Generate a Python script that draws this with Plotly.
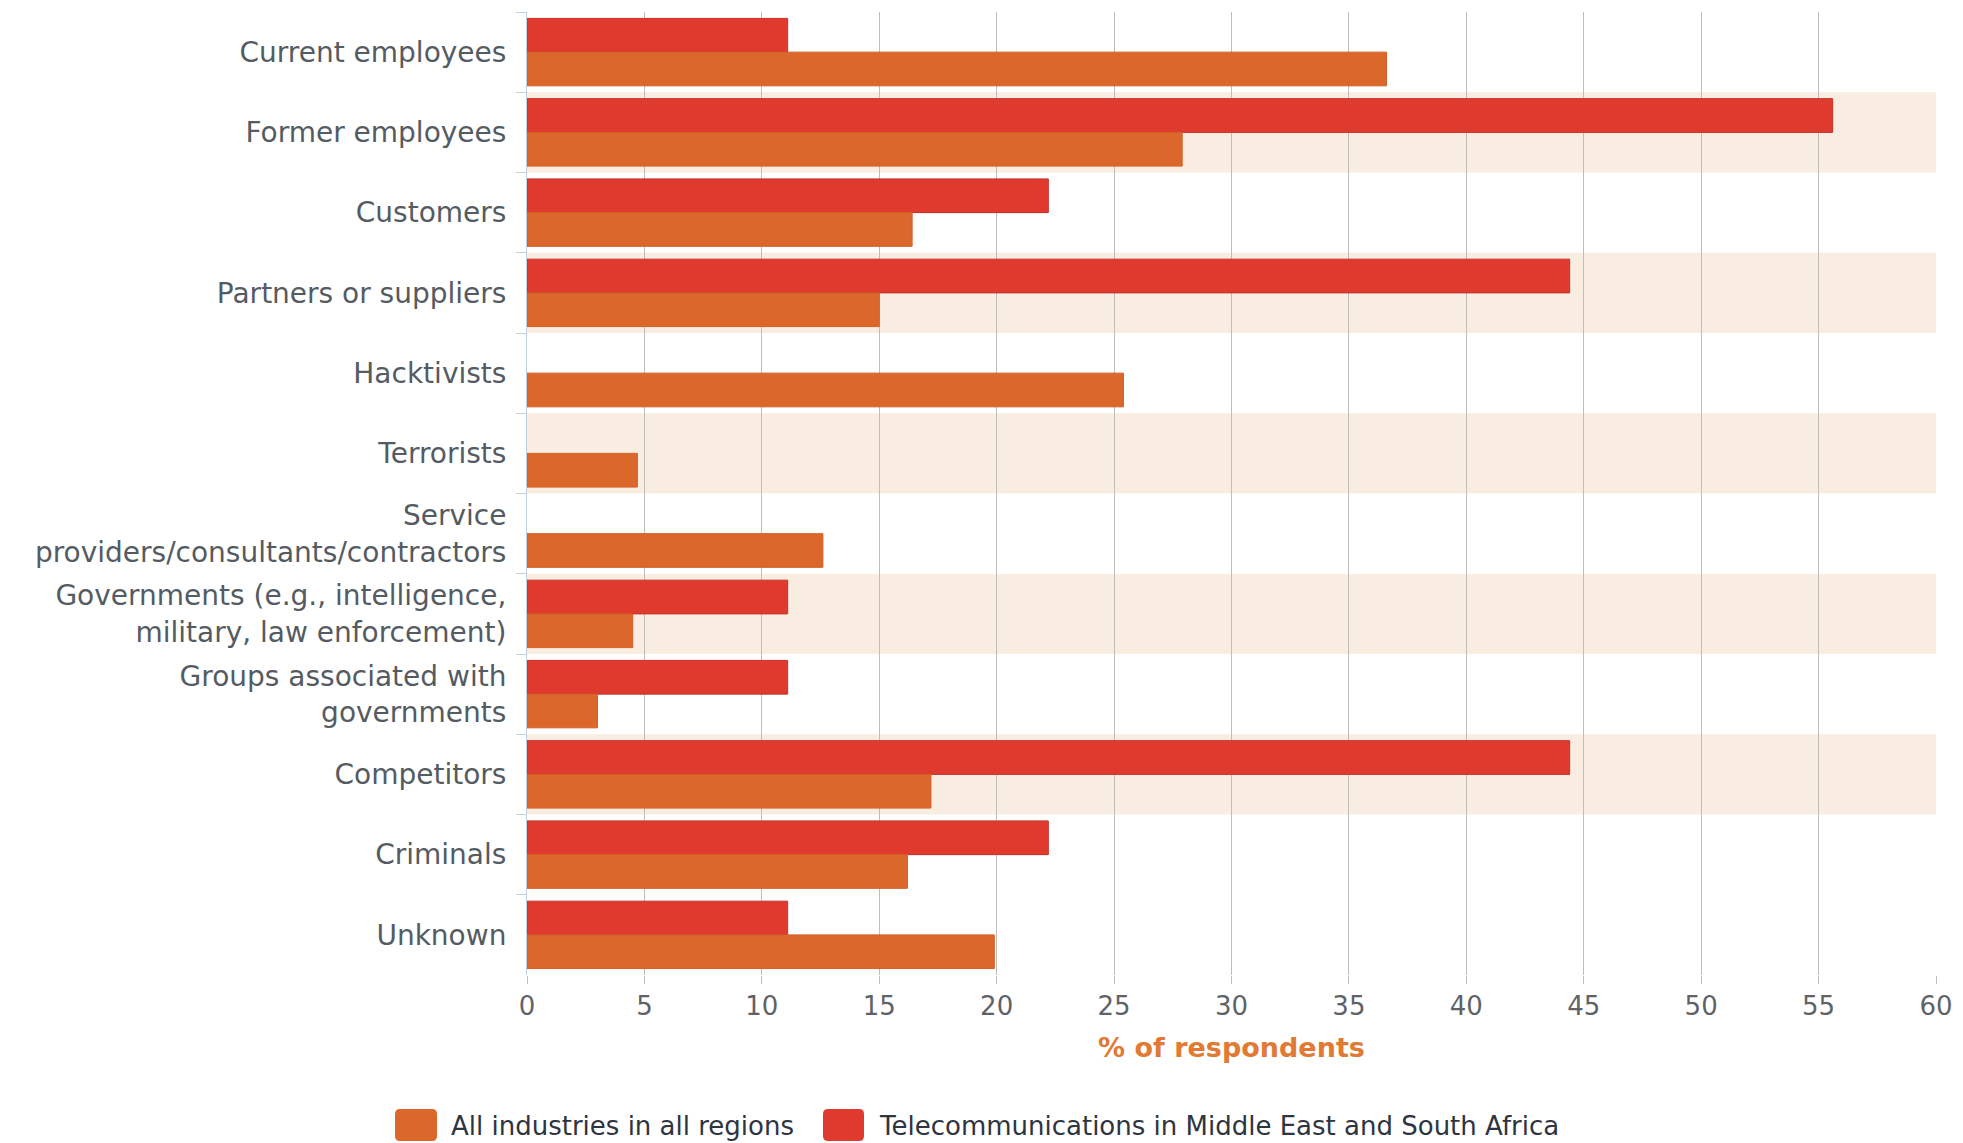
import plotly.graph_objects as go

categories = [
    "Current employees",
    "Former employees",
    "Customers",
    "Partners or suppliers",
    "Hacktivists",
    "Terrorists",
    "Service<br>providers/consultants/contractors",
    "Governments (e.g., intelligence,<br>military, law enforcement)",
    "Groups associated with<br>governments",
    "Competitors",
    "Criminals",
    "Unknown",
]
telecom_mesa = [11.1, 55.6, 22.2, 44.4, None, None, None, 11.1, 11.1, 44.4, 22.2, 11.1]
all_industries = [36.6, 27.9, 16.4, 15.0, 25.4, 4.7, 12.6, 4.5, 3.0, 17.2, 16.2, 19.9]
x_ticks = list(range(0, 61, 5))
series_names = ["All industries in all regions", "Telecommunications in Middle East and South Africa"]

ORANGE = "#dc672b"
RED = "#e03a2f"
BAND = "#f9ede2"
FONT = "DejaVu Sans"

W, H = 1963, 1143
ML, MR, MT, MB = 527, 27, 12, 168
PW, PH = W - ML - MR, H - MT - MB


def px_x(p):
    return (p - ML) / PW


def px_y(p):
    return (H - MB - p) / PH


fig = go.Figure()
fig.add_trace(go.Bar(
    y=categories, x=telecom_mesa, orientation="h", name=series_names[1],
    marker=dict(color=RED, line=dict(color="#c5322a", width=1)),
    showlegend=False,
))
fig.add_trace(go.Bar(
    y=categories, x=all_industries, orientation="h", name=series_names[0],
    marker=dict(color=ORANGE, line=dict(color="#d35f27", width=1)),
    showlegend=False,
))

shapes = []
for i in range(1, len(categories) - 1, 2):
    shapes.append(dict(type="rect", xref="x", yref="y", x0=0, x1=60, y0=i - 0.5, y1=i + 0.5,
                       fillcolor=BAND, line=dict(width=0), layer="below"))


def rounded_rect(x0, y0, x1, y1, r):
    def P(x, y):
        return f"{px_x(x):.5f},{px_y(y):.5f}"
    return (f"M {P(x0 + r, y0)} L {P(x1 - r, y0)} Q {P(x1, y0)} {P(x1, y0 + r)} "
            f"L {P(x1, y1 - r)} Q {P(x1, y1)} {P(x1 - r, y1)} "
            f"L {P(x0 + r, y1)} Q {P(x0, y1)} {P(x0, y1 - r)} "
            f"L {P(x0, y0 + r)} Q {P(x0, y0)} {P(x0 + r, y0)} Z")


legend_y0, legend_y1 = 1109, 1141
shapes.append(dict(type="path", xref="paper", yref="paper", path=rounded_rect(395, legend_y0, 437, legend_y1, 5),
                   fillcolor=ORANGE, line=dict(width=0)))
shapes.append(dict(type="path", xref="paper", yref="paper", path=rounded_rect(823, legend_y0, 864, legend_y1, 5),
                   fillcolor=RED, line=dict(width=0)))

annotations = [
    dict(xref="paper", yref="paper", x=px_x(449), y=px_y(1126), xanchor="left", yanchor="middle",
         text=series_names[0], showarrow=False, font=dict(family=FONT, size=26, color="#2e3440")),
    dict(xref="paper", yref="paper", x=px_x(877), y=px_y(1126), xanchor="left", yanchor="middle",
         text=series_names[1], showarrow=False, font=dict(family=FONT, size=26, color="#2e3440")),
]

fig.update_layout(
    width=W, height=H,
    margin=dict(l=ML, r=MR, t=MT, b=MB, pad=0, autoexpand=False),
    paper_bgcolor="white", plot_bgcolor="white",
    barmode="group", bargap=0.16, bargroupgap=0,
    shapes=shapes, annotations=annotations,
    font=dict(family=FONT, color="#555b62"),
    showlegend=False,
)
fig.update_xaxes(
    range=[0, 60], tickvals=x_ticks, ticktext=[str(v) for v in x_ticks],
    showgrid=True, gridcolor="#bdbdbd", gridwidth=1, zeroline=False, showline=False,
    ticks="outside", ticklen=8, tickcolor="#bdbdbd", automargin=False,
    tickfont=dict(family=FONT, size=26, color="#5f6368"),
    title=dict(text="% of respondents", standoff=17,
               font=dict(family=FONT, size=27, color="#e07a34", weight="bold")),
)
fig.update_yaxes(
    range=[len(categories) - 0.5, -0.5], type="category",
    showgrid=False, showline=True, linecolor="#c0d0e0", linewidth=1,
    ticks="outside", tickson="boundaries", ticklen=10, tickcolor="#c0d0e0",
    ticklabelstandoff=14, automargin=False,
    tickfont=dict(family=FONT, size=28, color="#555b62"),
)

fig.write_html("out.html", config={"displayModeBar": False},
               post_script="document.body.style.margin='0px';document.body.style.overflow='hidden';")
